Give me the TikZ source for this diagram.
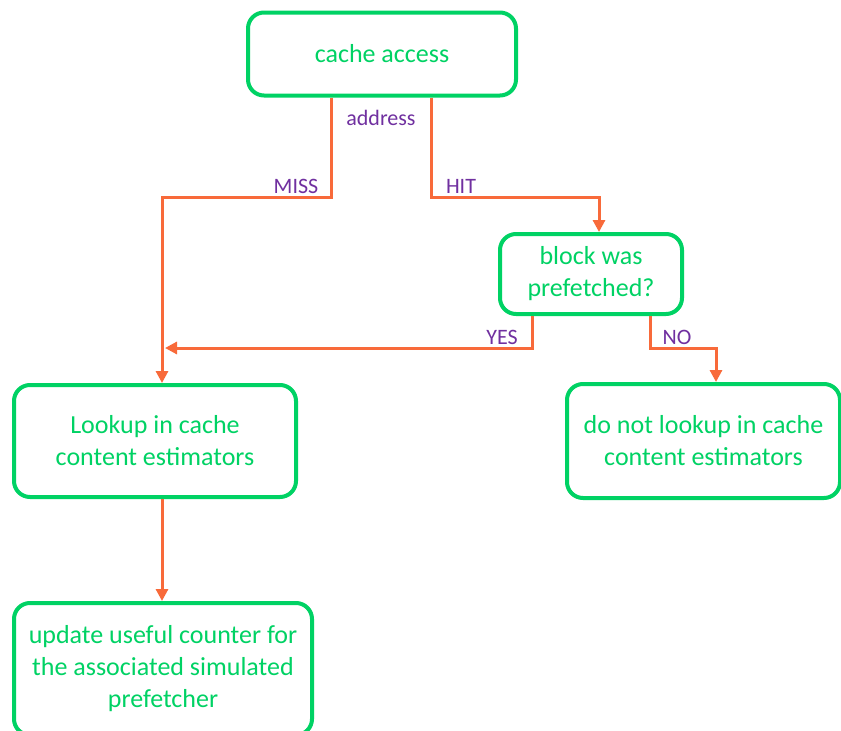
\documentclass[tikz,border=0pt]{standalone}
\usepackage{fontspec}
\setmainfont{Carlito}
\usetikzlibrary{arrows.meta,calc}
\definecolor{boxgreen}{HTML}{00D264}
\definecolor{labpurple}{HTML}{7030A0}
\definecolor{connorange}{HTML}{F86A3A}
\tikzset{
  box/.style={draw=boxgreen, line width=4pt, rounded corners=16pt, text=boxgreen,
    font=\fontsize{26}{32}\selectfont, align=center, inner sep=0pt},
  lab/.style={text=labpurple, font=\fontsize{22}{26}\selectfont, inner sep=0pt},
  conn/.style={draw=connorange, line width=3pt},
  tipped/.style={conn, -{Triangle[length=12pt,width=12pt]}}
}
\begin{document}
\begin{tikzpicture}[x=1pt,y=-1pt]
\useasboundingbox (0,0) rectangle (841,731);
\clip (0,0) rectangle (841,731);
\fill[white] (0,0) rectangle (841,731);

\node[box, minimum width=268pt, minimum height=83pt] (cache) at (382,54) {\raisebox{-2pt}{cache access}};
\node[box, minimum width=182pt, minimum height=80pt] (block) at (591,274) {block was\\prefetched?};
\node[box, minimum width=282pt, minimum height=112pt] (look) at (155,441) {Lookup in cache\\content estimators};
\node[box, minimum width=273pt, minimum height=114pt] (nolook) at (703.5,441) {do not lookup in cache\\content estimators};
\node[box, minimum width=298pt, minimum height=132pt] (upd) at (163,669) {update useful counter for\\the associated simulated\\prefetcher};

\coordinate (missc) at (162,197);
\coordinate (hitc) at (599,197);
\coordinate (yesend) at (165,348);
\coordinate (noc) at (716,348);

% MISS
\draw[tipped] ([xshift=-51pt]cache.south) |- (missc) -- ([xshift=7pt]look.north);
% HIT
\draw[tipped] ([xshift=49pt]cache.south) |- (hitc) -- ([xshift=8pt]block.north);
% YES
\draw[tipped] ([xshift=-59pt]block.south) |- (yesend);
% NO
\draw[tipped] ([xshift=59pt]block.south) |- (noc) -- ([xshift=12.5pt]nolook.north);
% Lookup -> update
\draw[tipped] ([xshift=7pt]look.south) -- ([xshift=7pt]look.south |- upd.north);

\node[lab] (laddr) at (381,118) {address};
\node[lab] (lmiss) at (296,186) {MISS};
\node[lab] (lhit) at (461,186) {HIT};
\node[lab] (lyes) at (502,337) {YES};
\node[lab] (lno) at (677,337) {NO};
\end{tikzpicture}
\end{document}
